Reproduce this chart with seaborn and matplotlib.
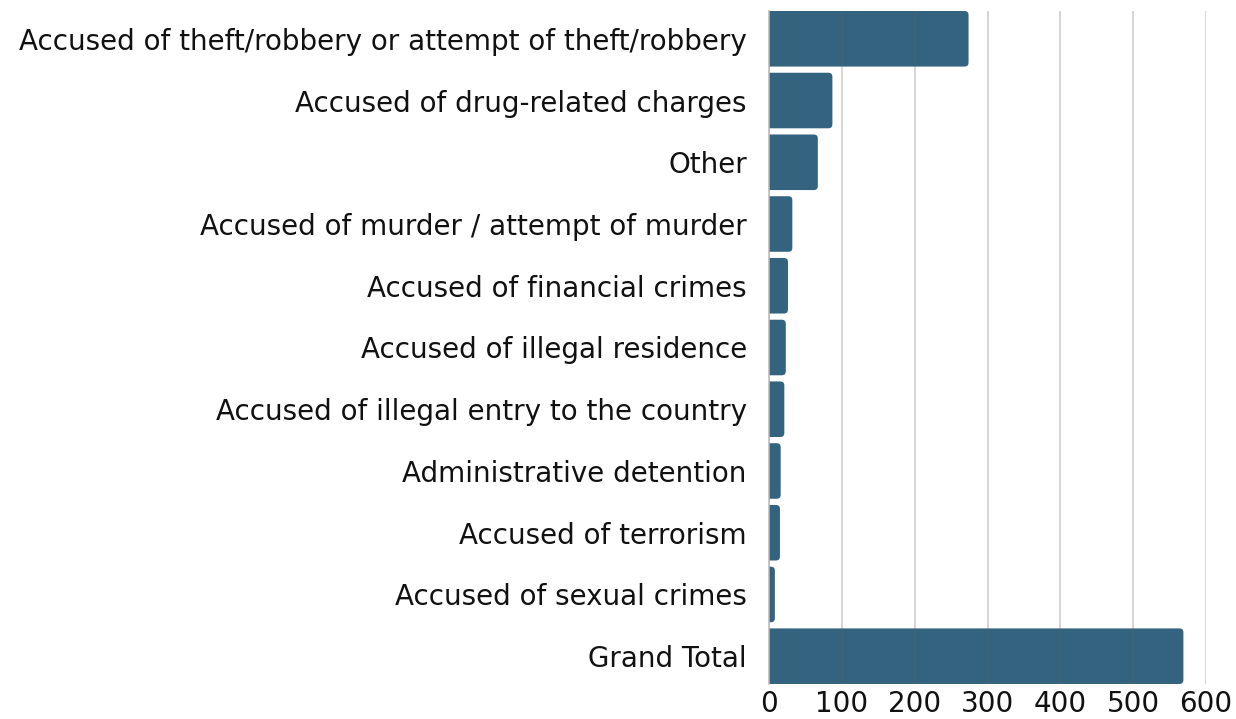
import matplotlib
matplotlib.use("Agg")
from matplotlib import pyplot as plt
from matplotlib.patches import FancyBboxPatch
import pandas as pd
import seaborn as sns

categories = [
    "Accused of theft/robbery or attempt of theft/robbery",
    "Accused of drug-related charges",
    "Other",
    "Accused of murder / attempt of murder",
    "Accused of financial crimes",
    "Accused of illegal residence",
    "Accused of illegal entry to the country",
    "Administrative detention",
    "Accused of terrorism",
    "Accused of sexual crimes",
    "Grand Total",
]
counts = [274, 87, 67, 32, 26, 23, 21, 16, 15, 8, 569]
xticks = [0, 100, 200, 300, 400, 500, 600]

bar_color = "#34637f"

sns.set_theme(style="white")
plt.rcParams["font.family"] = ["DejaVu Sans"]

df = pd.DataFrame({"category": categories, "count": counts})

fig = plt.figure(figsize=(12.36, 7.19), dpi=100)
ax = fig.add_axes([0.6222, 0.0487, 0.3535, 0.936])

sns.barplot(data=df, x="count", y="category", color=bar_color, width=0.9,
            saturation=1, ax=ax)

# swap plain rectangles for slightly rounded ones (left side hidden by the axis)
r = 5.5
for p in list(ax.patches):
    x0, y0 = p.get_x(), p.get_y()
    w, h = p.get_width(), p.get_height()
    rb = FancyBboxPatch((x0 - r, y0), w + r, h,
                        boxstyle=f"round,pad=0,rounding_size={r}",
                        mutation_aspect=0.0118,
                        facecolor=bar_color, edgecolor="none", zorder=1)
    p.remove()
    ax.add_patch(rb)

ax.set_xlim(0, 600)
ax.set_ylim(10.45, -0.45)
ax.set_xticks(xticks)
ax.set_xlabel("")
ax.set_ylabel("")

# faint grid drawn over the bars
ax.set_axisbelow(False)
ax.grid(axis="x", color="#626262", alpha=0.33, linewidth=1.1, zorder=3)
ax.grid(axis="y", visible=False)

for s in ["top", "right", "bottom"]:
    ax.spines[s].set_visible(False)
ax.spines["left"].set_color("#b8b8b8")
ax.spines["left"].set_linewidth(1.1)
ax.spines["left"].set_zorder(4)

ax.tick_params(axis="y", length=0, pad=16, labelsize=20, labelcolor="#111111")
ax.tick_params(axis="x", length=0, pad=4, labelsize=20, labelcolor="#111111")

plt.savefig("out.png", dpi=100)
